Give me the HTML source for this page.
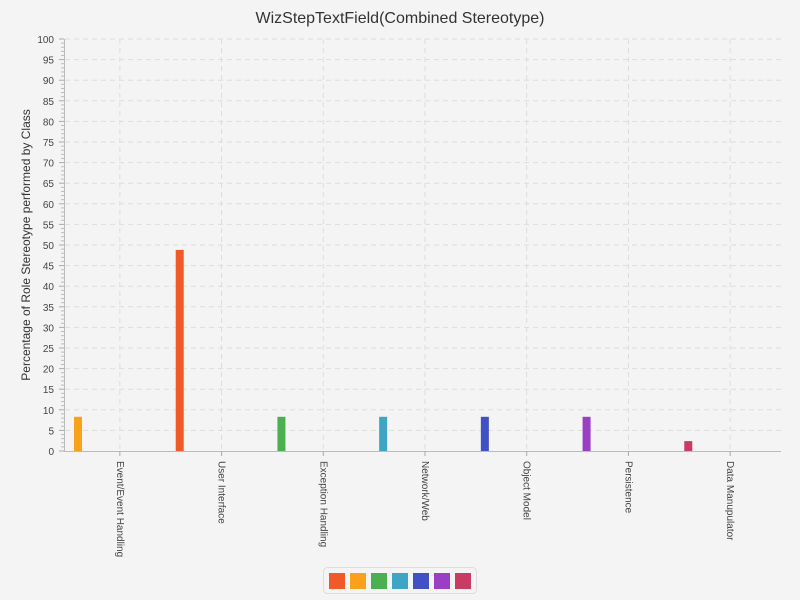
<!DOCTYPE html>
<html><head><meta charset="utf-8"><style>
html,body{margin:0;background:#f4f4f4;font-family:"Liberation Sans",sans-serif;overflow:hidden;width:800px;height:600px;}
svg{display:block;}
</style></head><body>
<svg width="800" height="600" id="c">
<rect width="800" height="600" fill="#f4f4f4"/>
<text x="400" y="23" text-anchor="middle" font-size="16" fill="#333">WizStepTextField(Combined Stereotype)</text>
<text transform="translate(30,245) rotate(-90)" text-anchor="middle" font-size="12" fill="#333">Percentage of Role Stereotype performed by Class</text>
<g id="grid"></g><g id="axes"></g><g id="bars"></g>
<g>
<rect x="323.5" y="567.5" width="153" height="26" rx="4" fill="#f4f4f4" stroke="#ddd"/>
<g id="leg"></g>
</g>
</svg>
<script>
const categories=["Event/Event Handling","User Interface","Exception Handling","Network/Web","Object Model","Persistence","Data Manupulator"];
const values=[8.3,48.8,8.3,8.3,8.3,8.3,2.4];
const colors=["#f9a11b","#f05a28","#4caf50","#3ea5c4","#3f51c4","#9a3fc4","#c83b63"];
const legendColors=["#f05a28","#f9a11b","#4caf50","#3ea5c4","#3f51c4","#9a3fc4","#c83b63"];
const yTicks=[0,5,10,15,20,25,30,35,40,45,50,55,60,65,70,75,80,85,90,95,100];
const NS="http://www.w3.org/2000/svg";
const x0=69,x1=781,y0=451,yTop=39;
const bw=(x1-x0)/categories.length;
const y=v=>y0-(v/100)*(y0-yTop);
function mk(t,a,p){const e=document.createElementNS(NS,t);for(const k in a)e.setAttribute(k,a[k]);p.appendChild(e);return e;}
const grid=document.getElementById('grid'),axes=document.getElementById('axes'),bars=document.getElementById('bars');
yTicks.forEach(v=>{
 if(v>0){const l=mk('line',{x1:65,x2:x1,y1:y(v),y2:y(v),stroke:'#ddd','stroke-dasharray':'5,4'},grid);
 }
 mk('line',{x1:59,x2:64,y1:y(v),y2:y(v),stroke:'#aaa'},axes);
 const t=mk('text',{x:54,y:y(v)+4,'text-anchor':'end','font-size':'10',fill:'#444'},axes);t.textContent=v;
 
});
for(let v=1;v<100;v++){if(v%5)mk('line',{x1:61,x2:64,y1:y(v),y2:y(v),stroke:'#bbb'},axes);}
mk('line',{x1:64.5,x2:64.5,y1:yTop,y2:y0,stroke:'#bbb'},axes);
mk('line',{x1:64,x2:x1,y1:y0+0.5,y2:y0+0.5,stroke:'#bbb'},axes);
categories.forEach((c,i)=>{
 const cx=x0+bw*(i+0.5);
 const g=mk('line',{x1:cx,x2:cx,y1:yTop,y2:y0,stroke:'#ddd','stroke-dasharray':'5,4'},grid);
 
 mk('line',{x1:cx,x2:cx,y1:y0,y2:y0+5,stroke:'#aaa'},axes);
 const t=mk('text',{transform:`translate(${cx-3},${y0+10}) rotate(90)`,'font-size':'10',fill:'#444'},axes);t.textContent=c;
 
 const r=mk('rect',{x:x0+bw*i+5,y:y(values[i]),width:8,height:y0-y(values[i]),fill:colors[i]},bars);
 
});
const leg=document.getElementById('leg');
legendColors.forEach((col,i)=>{const r=mk('rect',{x:329+i*21,y:573,width:16,height:16,fill:col},leg);
 });
</script>
</body></html>
